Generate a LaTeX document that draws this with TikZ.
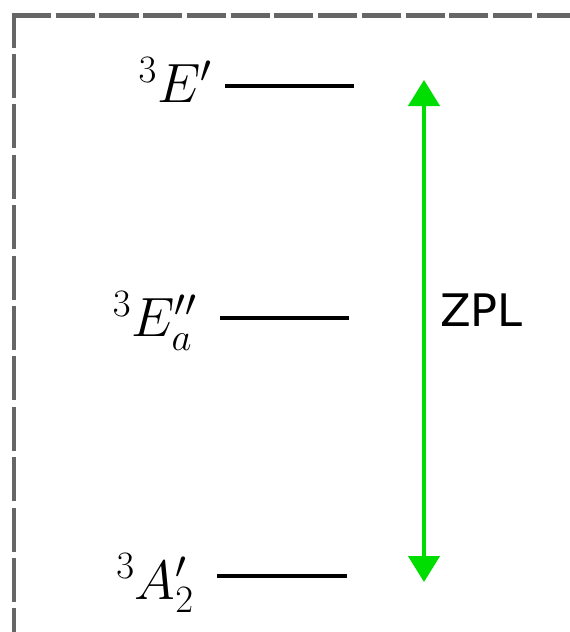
\RequirePackage{fix-cm}
\documentclass[tikz,border=0pt]{standalone}
\usepackage{fontspec}
\newfontfamily\zplfont{DejaVu Sans}
\usetikzlibrary{arrows.meta}
\definecolor{bordergray}{HTML}{666666}
\definecolor{zplgreen}{HTML}{00DD00}
\tikzset{
  level/.style={line width=3.4pt, black},
  lbl/.style={anchor=base east, inner sep=0pt, font=\fontsize{41.5}{48}\selectfont},
  frameline/.style={line width=3.2pt, bordergray},
  zplarrow/.style={line width=2.5pt, zplgreen, {Triangle[length=19.5pt,width=23.5pt]}-{Triangle[length=19.5pt,width=23.5pt]}, shorten <=0pt, shorten >=0pt}
}
\begin{document}
\begin{tikzpicture}[x=0.75pt,y=-0.75pt]
\useasboundingbox (0,0) rectangle (570,632);
% frame
\coordinate (corner) at (14,15.5);
\coordinate (frameB) at (14,640);
\coordinate (frameR) at (580,15.5);
\draw[frameline, dash pattern=on 33pt off 4.8pt, dash phase=9pt] (corner) -- (frameB);
\draw[frameline, dash pattern=on 29.3pt off 3.5pt] (12,15.5) -- (frameR);
% levels
\coordinate (l1a) at (225,86);  \coordinate (l1b) at (354,86);
\coordinate (l2a) at (220,318); \coordinate (l2b) at (349,318);
\coordinate (l3a) at (217,576); \coordinate (l3b) at (347,576);
\draw[level] (l1a) -- (l1b);
\draw[level] (l2a) -- (l2b);
\draw[level] (l3a) -- (l3b);
\node[lbl] (t1) at (212,102.5) {$^3E'$};
\node[lbl] (t2) at (197,336.5) {$^3E''_a$};
\node[lbl] (t3) at (194,599) {$^3A'_2$};
% ZPL arrow
\coordinate (atop) at (424,80);
\coordinate (abot) at (424,582);
\draw[zplarrow] (atop) -- (abot);
\node[anchor=base west, inner sep=0pt, font=\zplfont\fontsize{33.6}{40}\selectfont] (zpl) at (440,326.7) {ZPL};
\end{tikzpicture}
\end{document}
